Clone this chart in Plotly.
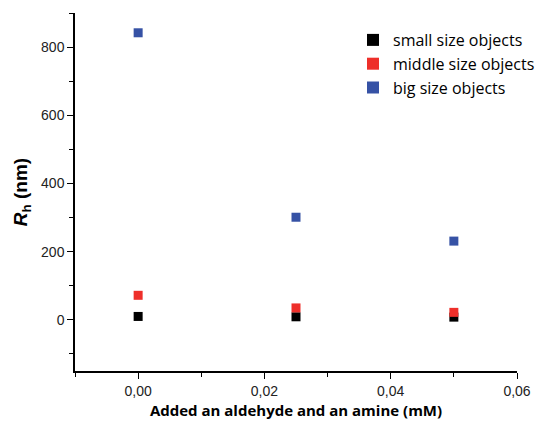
import plotly.graph_objects as go

x_vals = [0.0, 0.025, 0.05]
small = [10, 9, 8]
middle = [72, 35, 22]
big = [842, 301, 231]
series_names = ["small size objects", "middle size objects", "big size objects"]
colors = ["#000000", "#ee2f2a", "#3652a5"]

fig = go.Figure()
for name, vals, c in zip(series_names, [small, middle, big], colors):
    fig.add_trace(go.Scatter(x=x_vals, y=vals, mode="markers", name=name,
                             marker=dict(symbol="square", size=9, color=c,
                                         line=dict(width=0))))

axis_common = dict(showline=True, linecolor="black", linewidth=1.5, ticks="outside",
                   ticklen=6, tickwidth=1.2, tickcolor="black", showgrid=False,
                   zeroline=False, mirror=False, automargin=False,
                   tickfont=dict(family="Liberation Sans, Arial", size=14, color="#222"))

fig.update_layout(
    width=538, height=425,
    margin=dict(l=75, r=21, t=13, b=54, autoexpand=False),
    plot_bgcolor="white", paper_bgcolor="white",
    xaxis=dict(range=[-0.01, 0.06], tick0=0, dtick=0.02, tickformat=".2f",
               minor=dict(dtick=0.01, ticks="outside", ticklen=4, tickcolor="black", tickwidth=1.2),
               title=dict(text="<b>Added an aldehyde and an amine (mM)</b>",
                          font=dict(family="Open Sans, Lato", size=15, color="black"), standoff=8),
               **axis_common),
    yaxis=dict(range=[-150, 900], tick0=0, dtick=200,
               minor=dict(dtick=100, ticks="outside", ticklen=4, tickcolor="black", tickwidth=1.2),
               title=dict(text="<b><i>R</i><sub>h</sub> (nm)</b>",
                          font=dict(family="Liberation Sans, Arial", size=19, color="black"), standoff=8),
               **axis_common),
    separators=",.",
    legend=dict(x=(353 - 75) / 442, y=(371 - 23) / 358, xanchor="left", yanchor="top",
                bgcolor="rgba(0,0,0,0)",
                font=dict(family="Open Sans, Lato", size=16, color="black"),
                itemsizing="constant", tracegroupgap=0),
    showlegend=True,
)
fig.write_html("out.html", config={"displayModeBar": False},
               post_script="document.body.style.margin='0';document.body.style.overflow='hidden';")
